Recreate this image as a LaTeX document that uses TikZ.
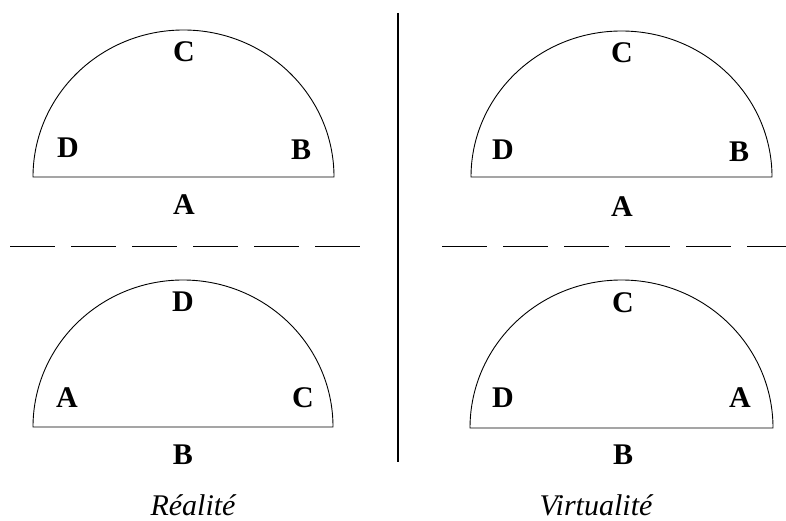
\documentclass[tikz,border=0pt]{standalone}
\usepackage{fontspec}
\setmainfont{Liberation Serif}
\begin{document}
\begin{tikzpicture}[x=1pt,y=1pt,
  lbl/.style={inner sep=0pt,font=\fontsize{30}{32}\selectfont\bfseries},
  captext/.style={inner sep=0pt,anchor=base,font=\fontsize{30}{32}\selectfont\itshape},
  dome/.style={line width=0.9pt,line join=round},
  sep/.style={line width=0.8pt,dash pattern=on 45pt off 16pt}]
\useasboundingbox (0,0) rectangle (786,520);
% domes
\draw[dome] (33,343) arc[start angle=180,end angle=0,x radius=150.5,y radius=147] -- cycle;
\draw[dome] (471,343) arc[start angle=180,end angle=0,x radius=150.5,y radius=146] -- cycle;
\draw[dome] (33,93) arc[start angle=180,end angle=0,x radius=150,y radius=147] -- cycle;
\draw[dome] (470,92) arc[start angle=180,end angle=0,x radius=151.5,y radius=148] -- cycle;
% vertical separator
\coordinate (vt) at (398,507);
\coordinate (vb) at (398,58);
\draw[line width=2.4pt] (vt) -- (vb);
% dashed separators
\coordinate (l1) at (10,274);
\coordinate (l2) at (360,274);
\coordinate (r1) at (442,274);
\coordinate (r2) at (786,274);
\draw[sep] (l1) -- (l2);
\draw[sep] (r1) -- (r2);
% top-left
\node[lbl] (tlC) at (184,468) {C};
\node[lbl] (tlD) at (68,372) {D};
\node[lbl] (tlB) at (301,370) {B};
\node[lbl] (tlA) at (184,315) {A};
% top-right
\node[lbl] (trC) at (622,467) {C};
\node[lbl] (trD) at (503,370) {D};
\node[lbl] (trB) at (739,368) {B};
\node[lbl] (trA) at (622,313) {A};
% bottom-left
\node[lbl] (blD) at (183,218) {D};
\node[lbl] (blA) at (67,122) {A};
\node[lbl] (blC) at (303,122) {C};
\node[lbl] (blB) at (183,65) {B};
% bottom-right
\node[lbl] (brC) at (623,217) {C};
\node[lbl] (brD) at (503,122) {D};
\node[lbl] (brA) at (740,122) {A};
\node[lbl] (brB) at (623,65) {B};
% captions
\node[captext] (real) at (193,5) {Réalité};
\node[captext] (virt) at (596,5) {Virtualité};
\end{tikzpicture}
\end{document}
